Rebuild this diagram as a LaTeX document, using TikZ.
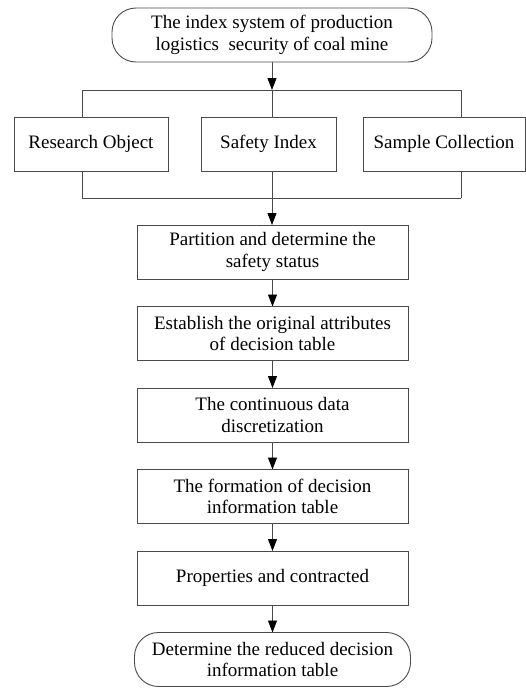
\documentclass[tikz,border=0pt]{standalone}
\usepackage{fontspec}
\setmainfont{Liberation Serif}
\usetikzlibrary{arrows.meta,positioning}
\definecolor{linec}{HTML}{4A4A4A}

\begin{document}
\begin{tikzpicture}[x=1pt,y=1pt,
      box/.style={draw=linec,line width=0.9pt,minimum width=271pt,minimum height=54pt,align=center,inner sep=2pt,outer sep=0pt,font=\fontsize{19}{21.5}\selectfont},
      term/.style={box,rounded corners=24pt},
      sbox/.style={box,minimum width=#1},
      >={Triangle[length=12pt,width=9pt,black]}]
    \useasboundingbox (0,0) rectangle (526,-688);
    \node[term,minimum width=320pt] (top) at (272,-35) {The index system of production\\logistics~ security of coal mine};
    \node[sbox=154pt] (ro) at (91,-144) {Research Object};
    \node[sbox=135pt] (si) at (268.5,-144) {Safety Index};
    \node[sbox=162pt] (sc) at (444,-144) {Sample Collection};
    \node[box] (p1) at (272.5,-252) {Partition and determine the\\safety status};
    \node[box,below=27.5pt of p1] (p2) {Establish the original attributes\\of decision table};
    \node[box,below=27.5pt of p2] (p3) {The continuous data\\discretization};
    \node[box,below=27.5pt of p3] (p4) {The formation of decision\\information table};
    \node[box,below=27.5pt of p4] (p5) {Properties and contracted};
    \node[term,minimum width=276pt,below=27.5pt of p5] (end) {Determine the reduced decision\\information table};
    % split and join lines
    \coordinate (tl) at (82,-90);
    \coordinate (tm) at (272,-90);
    \coordinate (tr) at (461,-90);
    \coordinate (bl) at (82,-198);
    \coordinate (bm) at (272,-198);
    \coordinate (br) at (461,-198);
    \draw[linec,line width=0.9pt,->] (top.south -| tm) -- (tm);
    \draw[linec,line width=0.9pt] (tl) -- (tr);
    \draw[linec,line width=0.9pt] (bl) -- (br);
    \draw[linec,line width=0.9pt] (tl) -- (tl |- ro.north) (tm) -- (tm |- si.north) (tr) -- (tr |- sc.north);
    \draw[linec,line width=0.9pt] (bl) -- (bl |- ro.south) (bm) -- (bm |- si.south) (br) -- (br |- sc.south);
    \draw[linec,line width=0.9pt,->] (bm) -- (bm |- p1.north);
    \foreach \a/\b in {p1/p2,p2/p3,p3/p4,p4/p5,p5/end}
      \draw[linec,line width=0.9pt,->] (\a) -- (\b);
  \end{tikzpicture}
\end{document}
